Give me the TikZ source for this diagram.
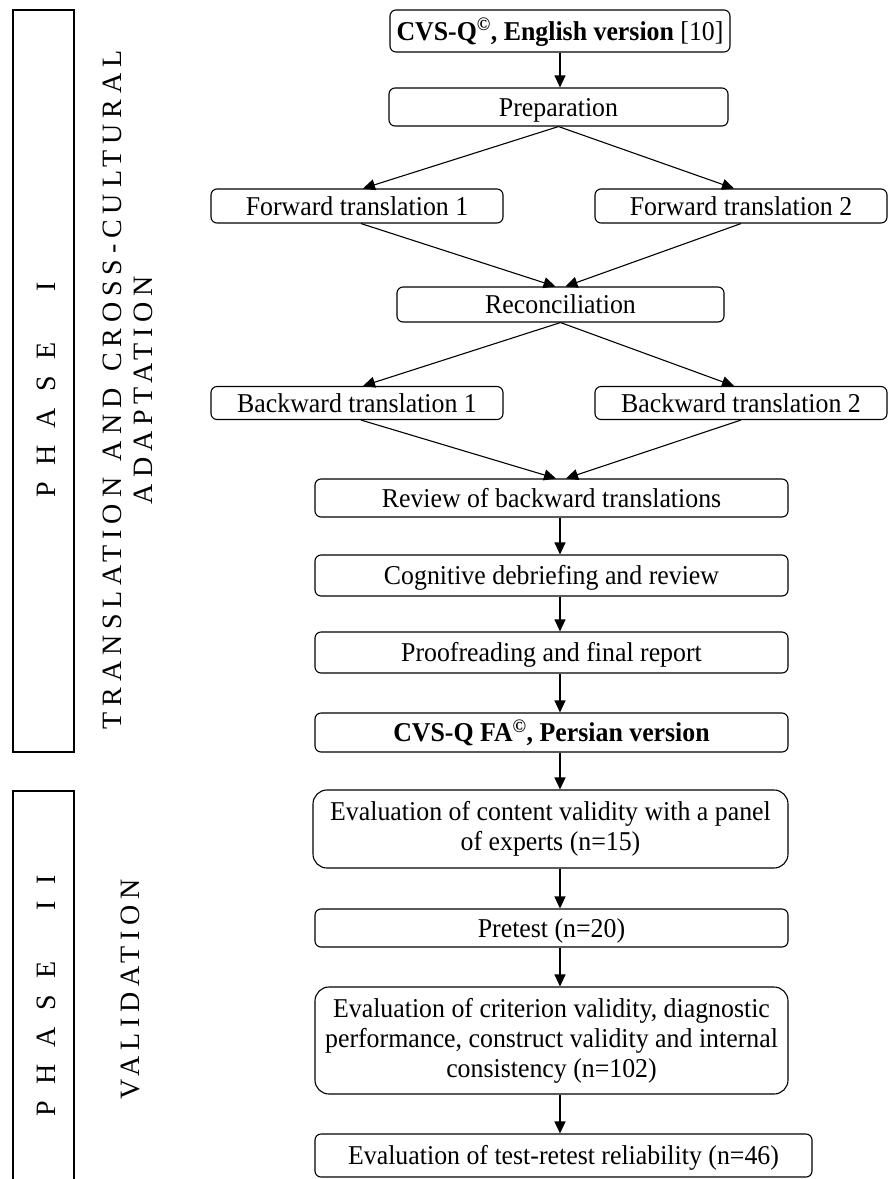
\documentclass[tikz,border=0pt]{standalone}
\usepackage{fontspec}
\setmainfont{Liberation Serif}
\newfontfamily\boxfont[FakeStretch=0.95]{Liberation Serif}
\newfontfamily\trackfont[LetterSpace=21,WordSpace=1.3]{Liberation Serif}
\newfontfamily\phasefont[LetterSpace=35]{Liberation Serif}
\usetikzlibrary{arrows.meta}
\tikzset{
  box/.style={draw, line width=1.1pt, rounded corners=6pt, inner sep=0pt, align=center,
    font=\boxfont\fontsize{27.2}{30}\selectfont},
  onebox/.style={box, text height=18pt, text depth=0pt},
  bigbox/.style={box, rounded corners=14pt},
  arr/.style={line width=1.1pt, -{Triangle[length=12pt,width=11pt]}},
  frame/.style={line width=1.1pt},
  phaselabel/.style={rotate=90, inner sep=0pt, font=\phasefont\fontsize{28}{31}\selectfont},
  sidelabel/.style={rotate=90, inner sep=0pt, align=center, font=\trackfont\fontsize{28}{31}\selectfont}
}
\begin{document}
\begin{tikzpicture}[x=1pt,y=-1pt]
\useasboundingbox (0,0) rectangle (891,1179);

% phase frames
\draw[frame] (13,10) rectangle (74,752);
\draw[frame] (13,1185) -- (13,791) -- (74,791) -- (74,1185);
\node[phaselabel] (p1) at (46,390) {P H A S E\ \ \ I};
\node[phaselabel] (p2) at (46,996) {P H A S E\ \ \ I I};
\node[sidelabel] (tr) at (128,390) {TRANSLATION AND CROSS-CULTURAL\\ADAPTATION};
\node[sidelabel] (va) at (130,989) {VALIDATION};

% boxes
\node[onebox, minimum width=340pt, minimum height=42pt] (top) at (560,31)
  {\textbf{CVS-Q\textsuperscript{©}, English version} [10]};
\node[onebox, minimum width=339pt, minimum height=38pt] (prep) at (558.5,107) {Preparation};
\node[onebox, minimum width=292pt, minimum height=34pt] (f1) at (357,206) {Forward translation 1};
\node[onebox, minimum width=292pt, minimum height=34pt] (f2) at (741,206) {Forward translation 2};
\node[onebox, minimum width=327pt, minimum height=35pt] (rec) at (560.5,304.5) {Reconciliation};
\node[onebox, minimum width=292pt, minimum height=33pt] (b1) at (357,403) {Backward translation 1};
\node[onebox, minimum width=292pt, minimum height=33pt] (b2) at (741,403) {Backward translation 2};
\node[onebox, minimum width=473pt, minimum height=38pt] (rev) at (551.5,498) {Review of backward translations};
\node[onebox, minimum width=473pt, minimum height=41pt] (cog) at (551.5,575.5) {Cognitive debriefing and review};
\node[onebox, minimum width=473pt, minimum height=41pt] (proof) at (551.5,652.5) {Proofreading and final report};
\node[onebox, minimum width=473pt, minimum height=39pt] (fa) at (551.5,732.5)
  {\textbf{CVS-Q FA\textsuperscript{©}, Persian version}};
\node[bigbox, minimum width=475pt, minimum height=78pt] (cont) at (550.5,829)
  {Evaluation of content validity with a panel\\of experts (n=15)};
\node[onebox, minimum width=473pt, minimum height=38pt] (pre) at (551.5,928) {Pretest (n=20)};
\node[bigbox, minimum width=473pt, minimum height=107pt] (crit) at (551.5,1040.5)
  {Evaluation of criterion validity, diagnostic\\performance, construct validity and internal\\consistency (n=102)};
\node[onebox, minimum width=497pt, minimum height=43pt] (last) at (563.5,1155.5)
  {Evaluation of test-retest reliability (n=46)};

\coordinate (axis) at (560,0);

% arrows
\draw[arr] (top.south -| axis) -- (prep.north -| axis);
\draw[arr] (prep.south) -- ([xshift=6pt]f1.north);
\draw[arr] (prep.south) -- ([xshift=-7pt]f2.north);
\draw[arr] ([xshift=4pt]f1.south) -- ([xshift=-5pt]rec.north);
\draw[arr] (f2.south) -- ([xshift=5pt]rec.north);
\draw[arr] (rec.south) -- ([xshift=6pt]b1.north);
\draw[arr] (rec.south) -- ([xshift=-7pt]b2.north);
\draw[arr] ([xshift=4pt]b1.south) -- (rev.north -| 556,0);
\draw[arr] (b2.south) -- (rev.north -| 566,0);
\draw[arr] (rev.south -| axis) -- (cog.north -| axis);
\draw[arr] (cog.south -| axis) -- (proof.north -| axis);
\draw[arr] (proof.south -| axis) -- (fa.north -| axis);
\draw[arr] (fa.south -| axis) -- (cont.north -| axis);
\draw[arr] (cont.south -| axis) -- (pre.north -| axis);
\draw[arr] (pre.south -| axis) -- (crit.north -| axis);
\draw[arr] (crit.south -| axis) -- (last.north -| axis);
\end{tikzpicture}
\end{document}
